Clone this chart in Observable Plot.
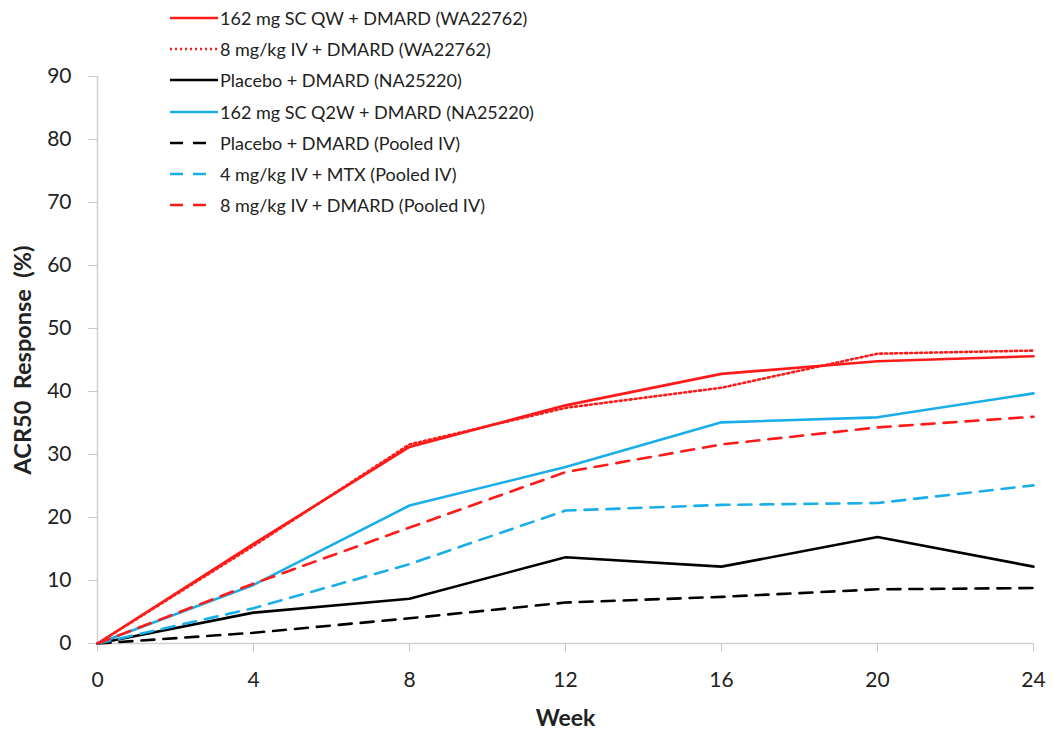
<!DOCTYPE html>
<html>
<head>
<meta charset="utf-8">
<script src="https://cdn.jsdelivr.net/npm/d3@7"></script>
<script src="https://cdn.jsdelivr.net/npm/@observablehq/plot@0.6"></script>
<style>
  html, body { margin: 0; padding: 0; background: #fff; }
  #wrap { position: relative; width: 1053px; height: 731px; font-family: Lato, "Open Sans", sans-serif; }
  #legend { position: absolute; left: 170px; top: 2.5px; }
  .row { display: flex; align-items: center; height: 31.2px; font-size: 18px; color: #222; white-space: nowrap; }
  .row svg { margin-right: 2px; }
</style>
</head>
<body>
<div id="wrap"><div id="legend"></div></div>
<script>
const weeks = [0, 4, 8, 12, 16, 20, 24];
const seriesNames = [
  "162 mg SC QW + DMARD (WA22762)",
  "8 mg/kg IV + DMARD (WA22762)",
  "Placebo + DMARD (NA25220)",
  "162 mg SC Q2W + DMARD (NA25220)",
  "Placebo + DMARD (Pooled IV)",
  "4 mg/kg IV + MTX (Pooled IV)",
  "8 mg/kg IV + DMARD (Pooled IV)"
];
const scQW_WA = [0, 15.8, 31.2, 37.8, 42.8, 44.8, 45.6];
const iv8_WA = [0, 15.5, 31.6, 37.4, 40.6, 46.0, 46.5];
const placebo_NA = [0, 4.9, 7.1, 13.7, 12.2, 16.9, 12.2];
const scQ2W_NA = [0, 9.3, 21.9, 28.0, 35.1, 35.9, 39.7];
const placebo_IV = [0, 1.7, 4.0, 6.5, 7.4, 8.6, 8.8];
const iv4_IV = [0, 5.6, 12.6, 21.1, 22.0, 22.3, 25.1];
const iv8_IV = [0, 9.5, 18.4, 27.2, 31.6, 34.3, 36.0];
const seriesValues = [scQW_WA, iv8_WA, placebo_NA, scQ2W_NA, placebo_IV, iv4_IV, iv8_IV];
const xTicks = [0, 4, 8, 12, 16, 20, 24];
const yTicks = [0, 10, 20, 30, 40, 50, 60, 70, 80, 90];
const xTitle = "Week";
const yTitle = "ACR50  Response  (%)";

// styles (separate from data)
const RED = "#ff1a1a", CYAN = "#19aee8", BLACK = "#000";
const styles = [
  {stroke: RED, dash: null},
  {stroke: RED, dash: "2,3"},
  {stroke: BLACK, dash: null},
  {stroke: CYAN, dash: null},
  {stroke: BLACK, dash: "13,9"},
  {stroke: CYAN, dash: "13,9"},
  {stroke: RED, dash: "13,9"}
];

const rows = seriesNames.flatMap((s, i) => weeks.map((w, j) => ({series: s, week: w, value: seriesValues[i][j]})));

const lineMarks = seriesNames.map((s, i) => Plot.line(rows.filter(d => d.series === s), {
  x: "week", y: "value", stroke: styles[i].stroke, strokeWidth: 2.6,
  strokeDasharray: styles[i].dash || undefined, strokeLinejoin: "round"
}));

const chart = Plot.plot({
  width: 1053,
  height: 731,
  marginLeft: 97,
  marginRight: 20,
  marginTop: 76,
  marginBottom: 88,
  style: {fontFamily: "Lato, 'Open Sans', sans-serif", background: "#fff", color: "#222"},
  x: {domain: [0, 24]},
  y: {domain: [0, 90]},
  marks: [
    Plot.ruleY([0], {stroke: "#d0d0d0", strokeWidth: 1.5}),
    Plot.ruleX([0], {stroke: "#d0d0d0", strokeWidth: 1.5}),
    Plot.axisX({ticks: xTicks, tickSize: 9, tickPadding: 20, stroke: "#c8c8c8", fill: "#222", fontSize: 21, label: null}),
    Plot.axisY({ticks: yTicks, tickSize: 9, tickPadding: 17, stroke: "#c8c8c8", fill: "#222", fontSize: 21, label: null}),
    ...lineMarks,
    Plot.text([yTitle], {frameAnchor: "left", textAnchor: "middle", lineAnchor: "middle", rotate: -90, dx: -74, fontSize: 23.5, fontWeight: "bold", fill: "#222"}),
    Plot.text([xTitle], {frameAnchor: "bottom", lineAnchor: "middle", dy: 75, fontSize: 23, fontWeight: "bold", fill: "#222"})
  ]
});
document.getElementById("wrap").prepend(chart);

const legend = document.getElementById("legend");
seriesNames.forEach((s, i) => {
  const row = document.createElement("div");
  row.className = "row";
  const st = styles[i];
  const dotted = st.dash === "2,3";
  const dashed = st.dash && !dotted;
  const x2 = dashed ? 37 : 48;
  const dashAttr = dotted ? `stroke-dasharray="2,3"` : dashed ? `stroke-dasharray="13,10"` : "";
  row.innerHTML = `<svg width="48" height="6"><line x1="0" y1="3" x2="${x2}" y2="3" stroke="${st.stroke}" stroke-width="2.6" ${dashAttr}/></svg><span>${s}</span>`;
  legend.appendChild(row);
});
</script>
</body>
</html>
